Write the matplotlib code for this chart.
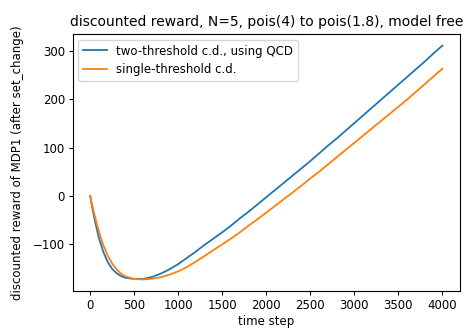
import numpy as np
import matplotlib
matplotlib.use('Agg')
import matplotlib.pyplot as plt

steps = [0, 25, 50, 75, 100, 150, 200, 250, 300, 350, 400, 500, 600, 700, 800, 900,
         1000, 1100, 1200, 1300, 1400, 1500, 1600, 1700, 1800, 1900,
         2000, 2100, 2200, 2300, 2400, 2500, 2600, 2700, 2800, 2900,
         3000, 3100, 3200, 3300, 3400, 3500, 3600, 3700, 3800, 3900, 4000]

# two-threshold c.d., using QCD
two_thr = [0, -26, -48, -69, -88, -117, -138, -152, -161, -167, -170.5, -173, -173, -169, -162, -153,
           -142, -129, -116, -102, -89, -76, -62, -47, -33, -18,
           -3, 12, 27, 42, 57, 72, 88, 104, 119, 135,
           151, 167, 183, 199, 215, 231, 247, 263, 279, 296, 312]

# single-threshold c.d.
single_thr = [0, -21, -40, -58, -75, -103, -125, -141, -153, -162, -167.5, -173, -174, -172.5, -169.5, -164,
              -157, -148, -137, -125, -113, -101, -89, -76, -62, -49,
              -35, -21, -7, 7, 21, 36, 50, 65, 80, 95,
              110, 125, 140, 155, 170, 185, 200, 216, 232, 248, 264]

labels = ['two-threshold c.d., using QCD', 'single-threshold c.d.']

fig = plt.figure(figsize=(4.68, 3.29), dpi=100)
ax = fig.add_axes([0.155, 0.115, 0.828, 0.782])

ax.plot(steps, two_thr, color='#1f77b4', lw=1.3)
ax.plot(steps, single_thr, color='#ff7f0e', lw=1.3)

ax.set_title('discounted reward, N=5, pois(4) to pois(1.8), model free', fontsize=10)
ax.set_xlabel('time step', fontsize=8.5, labelpad=2)
ax.set_ylabel('discounted reward of MDP1 (after set_change)', fontsize=8.5, labelpad=6)
ax.set_xticks(np.arange(0, 4001, 500))
ax.set_yticks([-100, 0, 100, 200, 300])
ax.tick_params(labelsize=8.5, length=3, pad=2.5)
ax.legend(labels, loc='upper left', fontsize=8.5)

fig.savefig('out.png', dpi=100)
